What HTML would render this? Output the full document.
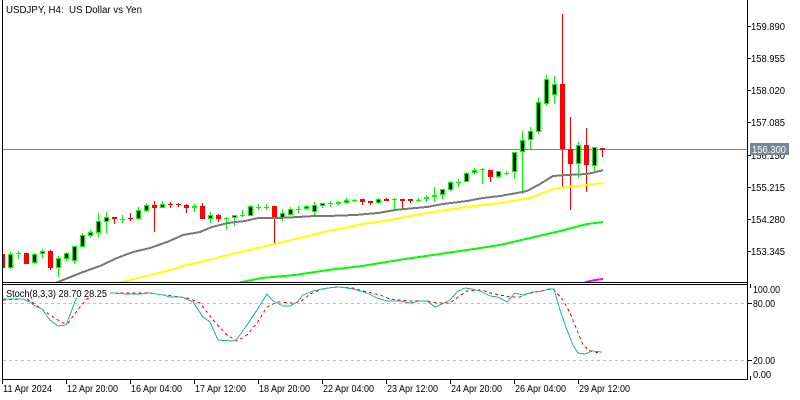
<!DOCTYPE html>
<html><head><meta charset="utf-8"><style>
html,body{margin:0;padding:0;background:#fff;}
svg{display:block;}
text{font-family:"Liberation Sans",sans-serif;font-size:10px;fill:#000;white-space:pre;}
</style></head><body>
<svg width="800" height="400" viewBox="0 0 800 400" xmlns="http://www.w3.org/2000/svg">
<defs>
<clipPath id="mp"><rect x="3" y="0" width="744" height="282"/></clipPath>
<clipPath id="sp"><rect x="3" y="285" width="744" height="94"/></clipPath>
</defs>
<rect width="800" height="400" fill="#fff"/>

<g clip-path="url(#mp)" shape-rendering="crispEdges">
<!-- price line -->
<line x1="3" y1="149.5" x2="747" y2="149.5" stroke="#778899" stroke-width="1"/>
<!-- green wicks -->
<path fill="none" stroke="#00ff00" stroke-width="1" d="M10.5 252V269M34.5 253V264M42.5 249V258M58.5 256V277M66.5 252V261M74.5 246V264M82.5 233V247M90.5 230V238M98.5 213V237M106.5 212V233M138.5 207V220M146.5 203V212M162.5 201V208M194.5 204V212M210.5 212V223M234.5 215V226M250.5 205V216M282.5 209V221M290.5 207V215M306.5 205V210M314.5 202V215M322.5 203V208M338.5 201V205M346.5 198V204M378.5 198V204M426.5 195V202M434.5 187V202M442.5 189V199M450.5 181V191M466.5 172V182M474.5 168V174M498.5 171V178M514.5 152V179M522.5 131V194M530.5 127V150M538.5 98V134M546.5 75V106M554.5 76V104M578.5 142V178M594.5 147V171
M18.5 251V259M122.5 215V223M226.5 217V230M242.5 210V217M258.5 204V210M266.5 204V210M298.5 206V213M330.5 201V207M354.5 199V202M394.5 198V209M418.5 198V202M458.5 179V187M482.5 168V184M506.5 171V175
M16 253.5H21M120 219.5H125M224 218.5H229M240 215.5H245M256 207.5H261M264 207.5H269M296 209.5H301M328 203.5H333M352 200.5H357M392 199.5H397M416 200.5H421M456 182.5H461M480 169.5H485M504 173.5H509"/>
<!-- red wicks -->
<path fill="none" stroke="#ff0000" stroke-width="1" d="M2.5 254V268M26.5 253V264M50.5 250V270M114.5 217V224M154.5 201V232M178.5 203V207M186.5 204V213M202.5 203V219M218.5 214V222M274.5 206V243M362.5 199V205M370.5 201V205M386.5 198V201M402.5 199V209M410.5 199V203M490.5 170V182M562.5 14V188M570.5 117V210M586.5 128V192M602.5 148V157M130.5 213V221M170.5 202V208
M128 218.5H133M168 204.5H173"/>
<!-- bull bodies -->
<path fill="#000" stroke="#00ff00" stroke-width="1" d="M8.5 254.5h4v13h-4zM32.5 254.5h4v8h-4zM40.5 251.5h4v2h-4zM56.5 258.5h4v9h-4zM64.5 253.5h4v5h-4zM72.5 246.5h4v14h-4zM80.5 235.5h4v11h-4zM88.5 232.5h4v3h-4zM96.5 221.5h4v11h-4zM104.5 217.5h4v4h-4zM136.5 210.5h4v8h-4zM144.5 205.5h4v5h-4zM160.5 204.5h4v3h-4zM192.5 206.5h4v1h-4zM208.5 215.5h4v3h-4zM232.5 215.5h4v2h-4zM248.5 206.5h4v9h-4zM280.5 213.5h4v4h-4zM288.5 209.5h4v5h-4zM304.5 206.5h4v2h-4zM312.5 205.5h4v6h-4zM320.5 203.5h4v2h-4zM336.5 202.5h4v1h-4zM344.5 200.5h4v2h-4zM376.5 199.5h4v3h-4zM424.5 197.5h4v1h-4zM432.5 195.5h4v1h-4zM440.5 189.5h4v5h-4zM448.5 182.5h4v7h-4zM464.5 173.5h4v8h-4zM472.5 170.5h4v2h-4zM496.5 171.5h4v5h-4zM512.5 152.5h4v19h-4zM520.5 140.5h4v11h-4zM528.5 131.5h4v8h-4zM536.5 102.5h4v29h-4zM544.5 79.5h4v24h-4zM552.5 84.5h4v10h-4zM576.5 145.5h4v18h-4zM592.5 147.5h4v18h-4z"/>
<!-- bear bodies -->
<path fill="#ff0000" d="M0 254h5v14h-5zM24 253h5v11h-5zM48 251h5v17h-5zM112 217h5v2h-5zM152 205h5v3h-5zM176 204h5v1h-5zM184 205h5v3h-5zM200 206h5v13h-5zM216 215h5v4h-5zM272 206h5v11h-5zM360 199h5v3h-5zM368 201h5v2h-5zM384 199h5v2h-5zM400 199h5v2h-5zM408 199h5v2h-5zM488 170h5v7h-5zM560 84h5v65h-5zM568 149h5v15h-5zM584 145h5v20h-5zM600 148h5v2h-5z"/>
<!-- moving averages -->
<polyline fill="none" stroke="#787878" stroke-width="2" points="50,285 58,282 83,272 100,266 117,258 133,252 150,248 167,242 183,235 200,232 212,227 228,223 245,221 258,218 278,218 298,217 315,216 328,216 355,215 378,213 395,210 405,209 427,207 443,204 467,201 483,198 500,196 517,193 527,191 540,184 553,176 567,175 587,174 600,171 603,170"/>
<polyline fill="none" stroke="#ffff00" stroke-width="2" points="114,285 122,282 150,275 167,271 183,266 200,262 228,255 262,247 295,239 328,231 345,228 362,224 378,222 395,219 405,217 433,212 467,207 500,203 530,198 553,189 567,187 587,185 603,183"/>
<polyline fill="none" stroke="#00ff00" stroke-width="2" points="232,285 242,282 262,278 295,275 328,270 362,266 405,259 433,255 467,250 500,245 530,238 560,231 587,224 603,222"/>
<polyline fill="none" stroke="#ff00ff" stroke-width="2" points="580,285 586,282 595,280 603,279"/>
</g>

<!-- stochastic pane -->
<g clip-path="url(#sp)" shape-rendering="crispEdges">
<line x1="3" y1="303.5" x2="747" y2="303.5" stroke="#c0c0c0" stroke-dasharray="3,3"/>
<line x1="3" y1="360.5" x2="747" y2="360.5" stroke="#c0c0c0" stroke-dasharray="3,3"/>
<polyline fill="none" stroke="#ff0000" stroke-width="1" stroke-dasharray="3,3" points="3,300 27,299 33,303 43,310 53,317 63,323 68,323 80,307 87,299 95,294 112,293 147,293 173,296 187,298 200,303 213,320 227,335 237,341 247,335 257,323 267,307 277,302 290,303 300,302 310,294 323,289 337,287 353,288 367,292 380,295 390,299 400,300 413,301 427,301 437,303 450,303 458,297 467,291 482,290 490,293 500,295 510,297 520,297 527,294 540,291 553,289 563,300 570,313 577,330 583,345 590,351 600,353"/>
<polyline fill="none" stroke="#20b2aa" stroke-width="1" points="3,299 23,299 30,302 35,306 42,309 50,320 58,326 66,325 70,315 76,299 82,293 112,293 127,294 140,294 150,293 163,295 170,297 182,297 193,302 203,317 210,322 218,340 233,341 237,339 247,325 257,310 267,294 273,301 283,306 290,306 297,302 303,295 313,291 327,288 340,287 353,289 367,293 377,298 387,301 400,301 410,303 420,301 427,301 435,307 442,304 450,300 458,291 465,288 472,289 480,291 490,296 498,297 507,302 515,293 523,295 533,292 543,291 548,289 554,289 560,310 567,330 573,345 578,353 585,354 592,351 602,352"/>
<rect x="5" y="286" width="105" height="12" fill="#fff"/>
</g>

<!-- frames -->
<g stroke="#000" stroke-width="1" shape-rendering="crispEdges" fill="none">
<line x1="2.5" y1="0" x2="2.5" y2="380"/>
<line x1="747.5" y1="0" x2="747.5" y2="380"/>
<line x1="2" y1="282.5" x2="748" y2="282.5"/>
<line x1="2" y1="284.5" x2="748" y2="284.5"/>
<line x1="2" y1="379.5" x2="748" y2="379.5"/>
<!-- price ticks -->
<path d="M747 26.5H751M747 58.5H751M747 90.5H751M747 122.5H751M747 155.5H751M747 187.5H751M747 219.5H751M747 251.5H751"/>
<!-- stoch ticks -->
<path d="M747 303.5H752M747 360.5H752M750.5 284V288M750.5 376V380"/>
<!-- time ticks -->
<path d="M2.5 380V384M66.5 380V384M130.5 380V384M194.5 380V384M258.5 380V384M322.5 380V384M386.5 380V384M450.5 380V384M514.5 380V384M578.5 380V384"/>
</g>

<!-- title -->
<text x="6" y="13" textLength="136" lengthAdjust="spacingAndGlyphs">USDJPY, H4:  US Dollar vs Yen</text>
<text x="6" y="297" textLength="101" lengthAdjust="spacingAndGlyphs">Stoch(8,3,3) 28.70 28.25</text>

<!-- price labels -->
<g>
<text x="751" y="30" textLength="34" lengthAdjust="spacingAndGlyphs">159.890</text>
<text x="751" y="62" textLength="34" lengthAdjust="spacingAndGlyphs">158.955</text>
<text x="751" y="94" textLength="34" lengthAdjust="spacingAndGlyphs">158.020</text>
<text x="751" y="126" textLength="34" lengthAdjust="spacingAndGlyphs">157.085</text>
<text x="751" y="159" textLength="34" lengthAdjust="spacingAndGlyphs">156.150</text>
<text x="751" y="191" textLength="34" lengthAdjust="spacingAndGlyphs">155.215</text>
<text x="751" y="223" textLength="34" lengthAdjust="spacingAndGlyphs">154.280</text>
<text x="751" y="255" textLength="34" lengthAdjust="spacingAndGlyphs">153.345</text>
</g>
<rect x="750" y="143" width="39" height="12" fill="#778899"/>
<text x="752" y="153" textLength="34" lengthAdjust="spacingAndGlyphs" style="fill:#fff">156.300</text>

<!-- stoch labels -->
<text x="753" y="293" textLength="27" lengthAdjust="spacingAndGlyphs">100.00</text>
<text x="753" y="307" textLength="22" lengthAdjust="spacingAndGlyphs">80.00</text>
<text x="753" y="364" textLength="22" lengthAdjust="spacingAndGlyphs">20.00</text>
<text x="753" y="378" textLength="18" lengthAdjust="spacingAndGlyphs">0.00</text>

<!-- time labels -->
<text x="3" y="392" textLength="49" lengthAdjust="spacingAndGlyphs">11 Apr 2024</text>
<text x="67" y="392" textLength="51" lengthAdjust="spacingAndGlyphs">12 Apr 20:00</text>
<text x="131" y="392" textLength="51" lengthAdjust="spacingAndGlyphs">16 Apr 04:00</text>
<text x="195" y="392" textLength="51" lengthAdjust="spacingAndGlyphs">17 Apr 12:00</text>
<text x="259" y="392" textLength="51" lengthAdjust="spacingAndGlyphs">18 Apr 20:00</text>
<text x="323" y="392" textLength="51" lengthAdjust="spacingAndGlyphs">22 Apr 04:00</text>
<text x="387" y="392" textLength="51" lengthAdjust="spacingAndGlyphs">23 Apr 12:00</text>
<text x="451" y="392" textLength="51" lengthAdjust="spacingAndGlyphs">24 Apr 20:00</text>
<text x="515" y="392" textLength="51" lengthAdjust="spacingAndGlyphs">26 Apr 04:00</text>
<text x="579" y="392" textLength="51" lengthAdjust="spacingAndGlyphs">29 Apr 12:00</text>
</svg>
</body></html>
